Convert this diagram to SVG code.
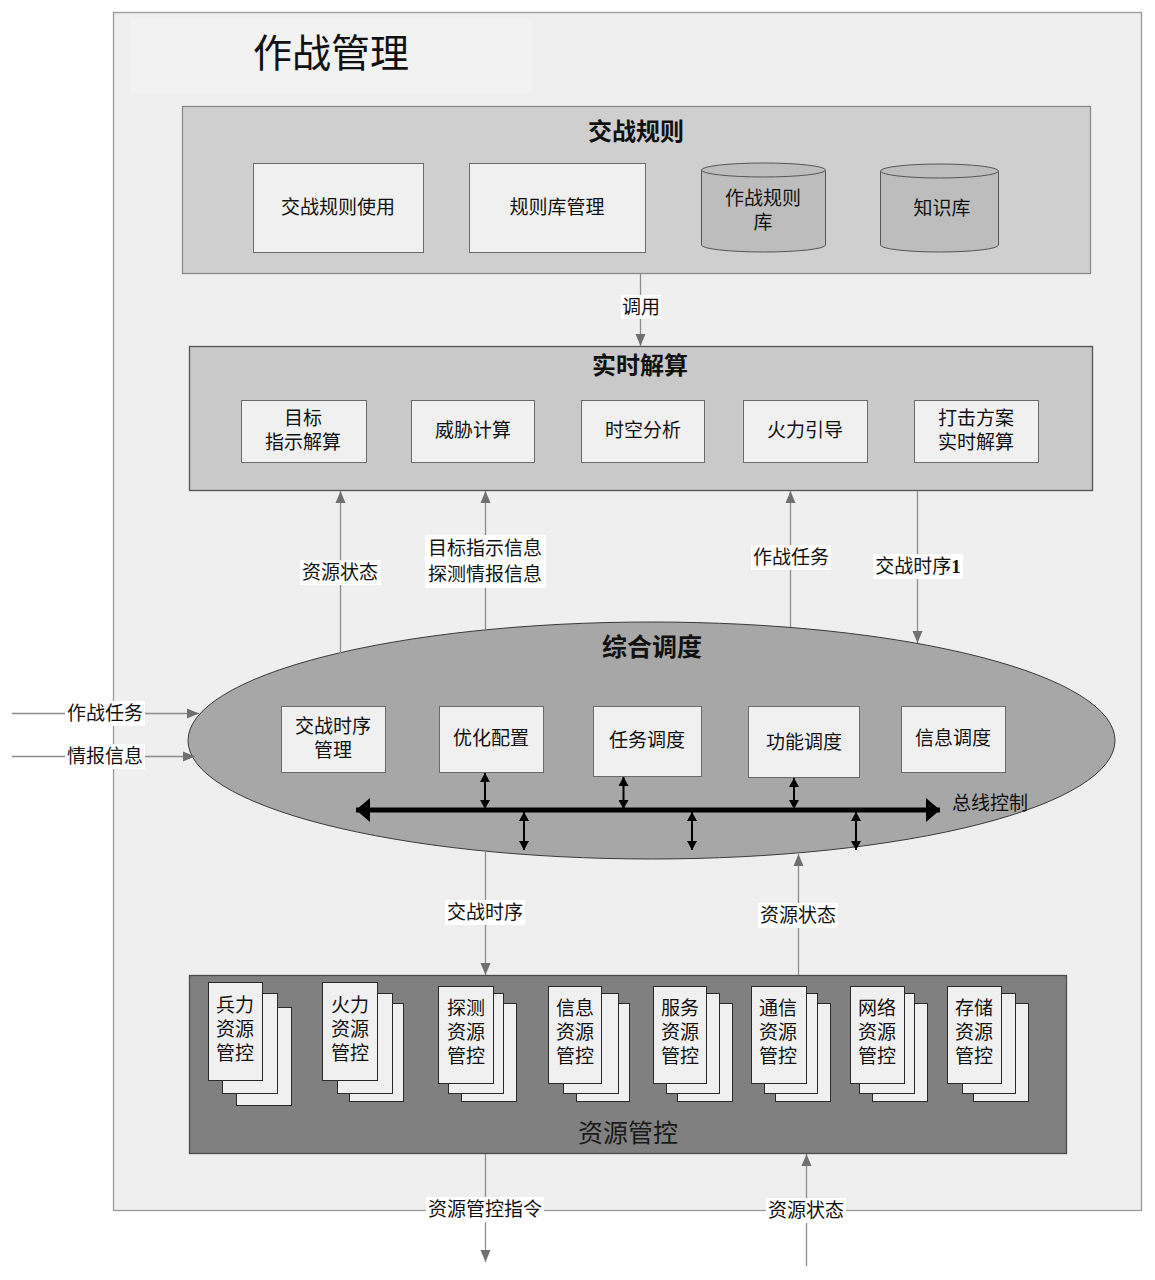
<svg xmlns="http://www.w3.org/2000/svg" width="1155" height="1280" viewBox="0 0 1155 1280">
<defs>
<style>
text{font-family:"Liberation Sans","Noto Sans CJK SC",sans-serif;fill:#111;dominant-baseline:central;text-anchor:middle}
.t19{font-size:19px}
.bold{font-weight:bold}
.ibox{fill:#f0f0f0;stroke:#6a6a6a;stroke-width:1}
.card{fill:#f0f0f0;stroke:#2a2a2a;stroke-width:1}
.cyl{fill:#bdbdbd;stroke:#555;stroke-width:1}
.conn{stroke:#8c8c8c;stroke-width:1.3;fill:none}
.dbl{stroke:#000;stroke-width:2;fill:none}
.lbl{fill:#ffffff}
</style>
<marker id="ga" viewBox="0 0 12 12" refX="12" refY="6" markerWidth="12" markerHeight="12" markerUnits="userSpaceOnUse" orient="auto">
<path d="M0,1 L12,6 L0,11 z" fill="#707070"/>
</marker>
<marker id="ba" viewBox="0 0 9 10" refX="9" refY="5" markerWidth="9" markerHeight="10" markerUnits="userSpaceOnUse" orient="auto-start-reverse">
<path d="M0,0 L9,5 L0,10 z" fill="#000"/>
</marker>
<marker id="bus" viewBox="0 0 14 24" refX="14" refY="12" markerWidth="14" markerHeight="24" markerUnits="userSpaceOnUse" orient="auto-start-reverse">
<path d="M0,0 L14,12 L0,24 z" fill="#000"/>
</marker>
</defs>

<rect width="1155" height="1280" fill="#ffffff"/>

<g id="frame">
<rect x="113.5" y="12.5" width="1028" height="1198" fill="#efefef" stroke="#9a9a9a" stroke-width="1.3"/>
<rect x="130" y="19" width="402" height="74" fill="#f2f2f2"/>
<text x="331" y="53" style="font-size:39px">作战管理</text>
</g>

<g id="rules">
<rect x="182.5" y="106.5" width="908" height="167" fill="#cfcfcf" stroke="#8a8a8a" stroke-width="1.3"/>
<text x="636" y="131" class="bold" style="font-size:24px">交战规则</text>
</g>
<g id="rule-use">
<rect class="ibox" x="253.5" y="163.5" width="170" height="89"/>
<text x="338" y="207" class="t19">交战规则使用</text>
</g>
<g id="rule-lib-mgmt">
<rect class="ibox" x="469.5" y="163.5" width="176" height="89"/>
<text x="557" y="207" class="t19">规则库管理</text>
</g>
<g id="rule-db">
<path class="cyl" d="M701.5,170 L701.5,245 A62,7 0 0 0 825.5,245 L825.5,170"/>
<ellipse class="cyl" cx="763.5" cy="170" rx="62" ry="7"/>
<text x="763" y="198" class="t19">作战规则</text>
<text x="763" y="222" class="t19">库</text>
</g>
<g id="knowledge-db">
<path class="cyl" d="M880.5,171 L880.5,245 A59,7 0 0 0 998.5,245 L998.5,171"/>
<ellipse class="cyl" cx="939.5" cy="171" rx="59" ry="7"/>
<text x="942" y="208" class="t19">知识库</text>
</g>

<g id="realtime">
<rect x="189.5" y="346.5" width="903" height="144" fill="#c9c9c9" stroke="#555" stroke-width="1.3"/>
<text x="640" y="365" class="bold" style="font-size:24px">实时解算</text>
</g>
<g id="rt-target">
<rect class="ibox" x="241.5" y="400.5" width="125" height="62"/>
<text x="303" y="418" class="t19">目标</text>
<text x="303" y="442" class="t19">指示解算</text>
</g>
<g id="rt-threat">
<rect class="ibox" x="411.5" y="400.5" width="123" height="62"/>
<text x="473" y="430" class="t19">威胁计算</text>
</g>
<g id="rt-spacetime">
<rect class="ibox" x="581.5" y="400.5" width="123" height="62"/>
<text x="643" y="430" class="t19">时空分析</text>
</g>
<g id="rt-fire">
<rect class="ibox" x="743.5" y="400.5" width="124" height="62"/>
<text x="805" y="430" class="t19">火力引导</text>
</g>
<g id="rt-strike">
<rect class="ibox" x="914.5" y="400.5" width="124" height="62"/>
<text x="976" y="418" class="t19">打击方案</text>
<text x="976" y="442" class="t19">实时解算</text>
</g>

<g id="dispatch">
<ellipse cx="651.5" cy="740.5" rx="463.5" ry="118.5" fill="#a7a7a7" stroke="#3a3a3a" stroke-width="1"/>
<text x="652" y="647" class="bold" style="font-size:25px">综合调度</text>
<text x="990" y="803" class="t19">总线控制</text>
</g>
<g id="d-timing">
<rect class="ibox" x="281.5" y="706.5" width="104" height="66"/>
<text x="333" y="726" class="t19">交战时序</text>
<text x="333" y="750" class="t19">管理</text>
</g>
<g id="d-optim">
<rect class="ibox" x="439.5" y="706.5" width="104" height="66"/>
<text x="491" y="738" class="t19">优化配置</text>
</g>
<g id="d-task">
<rect class="ibox" x="593.5" y="706.5" width="108" height="70"/>
<text x="647" y="740" class="t19">任务调度</text>
</g>
<g id="d-func">
<rect class="ibox" x="748.5" y="706.5" width="111" height="71"/>
<text x="804" y="742" class="t19">功能调度</text>
</g>
<g id="d-info">
<rect class="ibox" x="901.5" y="706.5" width="104" height="66"/>
<text x="953" y="738" class="t19">信息调度</text>
</g>

<g id="resources">
<rect x="189.5" y="975.5" width="877" height="178" fill="#808080" stroke="#4a4a4a" stroke-width="1.3"/>
<text x="628" y="1133" style="font-size:25px;fill:#1a1a1a">资源管控</text>
</g>
<g id="r-force">
<rect class="card" x="236.5" y="1007.5" width="55" height="98"/>
<rect class="card" x="222.5" y="993.5" width="55" height="100"/>
<rect class="card" x="208.5" y="982.5" width="54" height="98"/>
<text x="235" y="1005" class="t19">兵力</text><text x="235" y="1029" class="t19">资源</text><text x="235" y="1053" class="t19">管控</text>
</g>
<g id="r-fire">
<rect class="card" x="349.5" y="1003.5" width="54" height="98"/>
<rect class="card" x="337.5" y="993.5" width="55" height="100"/>
<rect class="card" x="322.5" y="982.5" width="55" height="98"/>
<text x="350" y="1005" class="t19">火力</text><text x="350" y="1029" class="t19">资源</text><text x="350" y="1053" class="t19">管控</text>
</g>
<g id="r-detect">
<rect class="card" x="461.5" y="1003.5" width="55" height="98"/>
<rect class="card" x="448.5" y="993.5" width="55" height="100"/>
<rect class="card" x="438.5" y="986.5" width="55" height="97"/>
<text x="466" y="1008" class="t19">探测</text><text x="466" y="1032" class="t19">资源</text><text x="466" y="1056" class="t19">管控</text>
</g>
<g id="r-info">
<rect class="card" x="576.5" y="1003.5" width="53" height="98"/>
<rect class="card" x="563.5" y="993.5" width="55" height="100"/>
<rect class="card" x="548.5" y="986.5" width="53" height="97"/>
<text x="575" y="1008" class="t19">信息</text><text x="575" y="1032" class="t19">资源</text><text x="575" y="1056" class="t19">管控</text>
</g>
<g id="r-service">
<rect class="card" x="677.5" y="1003.5" width="55" height="98"/>
<rect class="card" x="666.5" y="993.5" width="53" height="100"/>
<rect class="card" x="653.5" y="986.5" width="53" height="97"/>
<text x="680" y="1008" class="t19">服务</text><text x="680" y="1032" class="t19">资源</text><text x="680" y="1056" class="t19">管控</text>
</g>
<g id="r-comm">
<rect class="card" x="775.5" y="1003.5" width="55" height="98"/>
<rect class="card" x="764.5" y="993.5" width="53" height="100"/>
<rect class="card" x="751.5" y="986.5" width="55" height="97"/>
<text x="778" y="1008" class="t19">通信</text><text x="778" y="1032" class="t19">资源</text><text x="778" y="1056" class="t19">管控</text>
</g>
<g id="r-net">
<rect class="card" x="872.5" y="1003.5" width="55" height="98"/>
<rect class="card" x="859.5" y="993.5" width="55" height="100"/>
<rect class="card" x="850.5" y="986.5" width="54" height="97"/>
<text x="877" y="1008" class="t19">网络</text><text x="877" y="1032" class="t19">资源</text><text x="877" y="1056" class="t19">管控</text>
</g>
<g id="r-storage">
<rect class="card" x="973.5" y="1003.5" width="55" height="98"/>
<rect class="card" x="962.5" y="993.5" width="53" height="100"/>
<rect class="card" x="947.5" y="986.5" width="54" height="97"/>
<text x="974" y="1008" class="t19">存储</text><text x="974" y="1032" class="t19">资源</text><text x="974" y="1056" class="t19">管控</text>
</g>

<g id="connectors">
<path class="conn" d="M640.5,274 L640.5,346" marker-end="url(#ga)"/>
<path class="conn" d="M340.5,653 L340.5,491" marker-end="url(#ga)"/>
<path class="conn" d="M485.5,630 L485.5,491" marker-end="url(#ga)"/>
<path class="conn" d="M790.5,627 L790.5,491" marker-end="url(#ga)"/>
<path class="conn" d="M917.5,491 L917.5,643" marker-end="url(#ga)"/>
<path class="conn" d="M12,713.5 L199,713.5" marker-end="url(#ga)"/>
<path class="conn" d="M12,756.5 L195,756.5" marker-end="url(#ga)"/>
<path class="conn" d="M485.5,851 L485.5,975" marker-end="url(#ga)"/>
<path class="conn" d="M798.5,975 L798.5,854" marker-end="url(#ga)"/>
<path class="conn" d="M485.5,1154 L485.5,1262" marker-end="url(#ga)"/>
<path class="conn" d="M806.5,1266 L806.5,1154" marker-end="url(#ga)"/>

<path d="M356,810 L940,810" stroke="#000" stroke-width="5" fill="none" marker-start="url(#bus)" marker-end="url(#bus)"/>
<path class="dbl" d="M485,773 L485,809" marker-start="url(#ba)" marker-end="url(#ba)"/>
<path class="dbl" d="M623.5,777 L623.5,809" marker-start="url(#ba)" marker-end="url(#ba)"/>
<path class="dbl" d="M794,778 L794,809" marker-start="url(#ba)" marker-end="url(#ba)"/>
<path class="dbl" d="M524,812 L524,850" marker-start="url(#ba)" marker-end="url(#ba)"/>
<path class="dbl" d="M692,812 L692,850" marker-start="url(#ba)" marker-end="url(#ba)"/>
<path class="dbl" d="M856,812 L856,850" marker-start="url(#ba)" marker-end="url(#ba)"/>

<rect class="lbl" x="621" y="295" width="40" height="24"/>
<text x="641" y="307" class="t19">调用</text>
<rect class="lbl" x="300" y="560" width="81" height="25"/>
<text x="340" y="572" class="t19">资源状态</text>
<rect class="lbl" x="425" y="535" width="121" height="53"/>
<text x="485" y="548" class="t19">目标指示信息</text>
<text x="485" y="574" class="t19">探测情报信息</text>
<rect class="lbl" x="751" y="545" width="80" height="25"/>
<text x="791" y="557" class="t19">作战任务</text>
<rect class="lbl" x="873" y="554" width="90" height="25"/>
<text x="918" y="566" class="t19">交战时序<tspan style="font-family:'Liberation Serif',serif;font-weight:bold">1</tspan></text>
<rect class="lbl" x="65" y="701" width="80" height="25"/>
<text x="105" y="713" class="t19">作战任务</text>
<rect class="lbl" x="65" y="744" width="80" height="25"/>
<text x="105" y="756" class="t19">情报信息</text>
<rect class="lbl" x="445" y="900" width="80" height="25"/>
<text x="485" y="912" class="t19">交战时序</text>
<rect class="lbl" x="758" y="903" width="80" height="25"/>
<text x="798" y="915" class="t19">资源状态</text>
<rect class="lbl" x="426" y="1197" width="118" height="25"/>
<text x="485" y="1209" class="t19">资源管控指令</text>
<rect class="lbl" x="766" y="1198" width="80" height="25"/>
<text x="806" y="1210" class="t19">资源状态</text>
</g>
</svg>
